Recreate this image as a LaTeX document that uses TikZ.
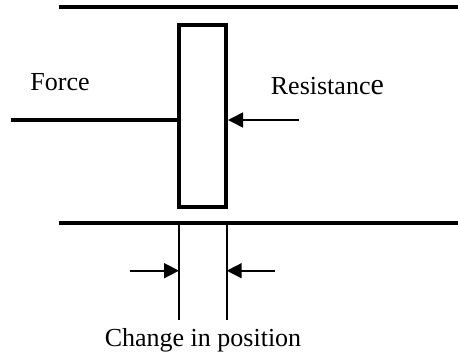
\documentclass[tikz,border=0pt]{standalone}
\usepackage{fontspec}
\setmainfont{Liberation Serif}
\usetikzlibrary{arrows.meta}
\begin{document}
\begin{tikzpicture}[x=1pt,y=-1pt,
  rail/.style={line width=4pt},
  blockbox/.style={draw,line width=4pt,minimum width=47.3pt,minimum height=182.5pt,inner sep=0pt,outer sep=0pt},
  thick line/.style={line width=3.5pt},
  thin arrow/.style={line width=1.6pt,-{Triangle[length=15pt,width=15pt]}},
  dimline/.style={line width=1.6pt},
  lab/.style={font=\fontsize{26}{30}\selectfont,inner sep=0pt,anchor=base}]
\useasboundingbox (0,0) rectangle (458,356);
% rails
\coordinate (tl) at (59,7);
\coordinate (tr) at (458,7);
\coordinate (bl) at (59,223.3);
\coordinate (br) at (458,223.3);
\draw[rail] (tl) -- (tr);
\draw[rail] (bl) -- (br);
% block
\node[blockbox] (block) at (202.35,115.75) {};
% force line
\coordinate (f0) at (11,120);
\draw[thick line] (f0) -- (f0 -| block.west);
% resistance arrow
\coordinate (r0) at (299,120);
\draw[thin arrow] (r0) -- ([xshift=2pt]r0 -| block.east);
% dimension lines
\coordinate (d1t) at (179,223.3);
\coordinate (d1b) at (179,320);
\coordinate (d2t) at (226.7,223.3);
\coordinate (d2b) at (226.7,320);
\draw[dimline] (d1t) -- (d1b);
\draw[dimline] (d2t) -- (d2b);
\coordinate (a1) at (130,270.7);
\coordinate (a2) at (275,270.7);
\draw[thin arrow] (a1) -- (a1 -| d1t);
\draw[thin arrow] (a2) -- (a2 -| d2t);
% labels
\node[lab] (force) at (60,90.7) {Force};
\node[lab,anchor=base west] (resist) at (270.7,94) {Resistanc{\fontsize{30}{30}\selectfont e}};
\node[lab] (change) at (203,346.7) {Change in position};
\end{tikzpicture}
\end{document}
